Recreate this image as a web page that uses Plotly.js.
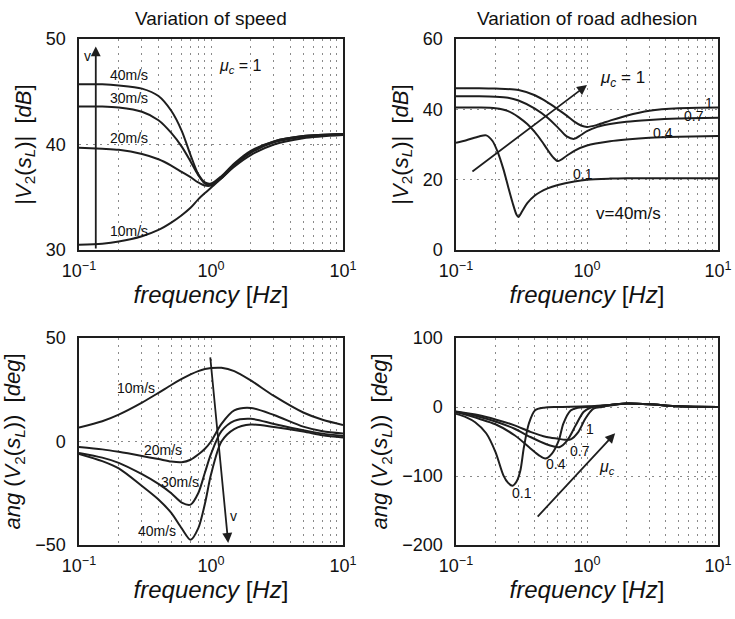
<!DOCTYPE html>
<html>
<head>
<meta charset="utf-8">
<script src="https://cdn.plot.ly/plotly-3.0.1.min.js"></script>
<style>html,body{margin:0;padding:0;background:#fff;}#chart{width:735px;height:619px;}</style>
</head>
<body>
<div id="chart"></div>
<script>
// ---------- Data: magnitude vs speed (top-left) ----------
const fSpeedMag = [0.1, 0.15, 0.2, 0.3, 0.4, 0.5, 0.6, 0.7, 0.8, 0.9, 1.0, 1.2, 1.5, 2, 3, 5, 10];
const magV40 = [45.7, 45.7, 45.6, 45.3, 44.6, 43.2, 41.3, 39.0, 37.2, 36.4, 36.3, 37.0, 38.2, 39.4, 40.3, 40.8, 41.0];
const magV30 = [43.6, 43.6, 43.5, 43.1, 42.3, 41.1, 39.8, 38.4, 37.1, 36.3, 36.2, 36.9, 38.1, 39.3, 40.3, 40.8, 41.0];
const magV20 = [39.7, 39.6, 39.5, 39.1, 38.6, 38.0, 37.4, 36.9, 36.4, 36.1, 36.1, 36.8, 38.0, 39.2, 40.2, 40.7, 41.0];
const magV10 = [30.5, 30.6, 30.8, 31.3, 31.9, 32.6, 33.3, 34.0, 34.8, 35.4, 35.9, 36.8, 37.9, 39.0, 40.0, 40.6, 40.9];

// ---------- Data: magnitude vs road adhesion (top-right) ----------
const fMu1Mag = [0.1, 0.15, 0.2, 0.3, 0.4, 0.5, 0.6, 0.7, 0.8, 0.9, 1.0, 1.2, 1.5, 2, 3, 5, 10];
const magMu1 = [46.0, 46.0, 45.9, 45.5, 44.0, 42.0, 40.0, 38.2, 36.5, 35.4, 35.0, 35.6, 36.8, 38.2, 39.6, 40.3, 40.5];
const fMu07Mag = [0.1, 0.15, 0.2, 0.25, 0.3, 0.4, 0.5, 0.6, 0.7, 0.8, 0.9, 1.0, 1.2, 1.5, 2, 3, 5, 10];
const magMu07 = [43.7, 43.7, 43.6, 43.3, 42.5, 40.2, 37.6, 34.8, 32.3, 31.6, 32.7, 33.8, 35.0, 35.8, 36.5, 37.0, 37.4, 37.6];
const fMu04Mag = [0.1, 0.15, 0.2, 0.25, 0.3, 0.35, 0.4, 0.45, 0.5, 0.55, 0.6, 0.7, 0.8, 1.0, 1.5, 2, 3, 5, 10];
const magMu04 = [40.5, 40.5, 40.3, 39.5, 37.8, 35.8, 33.5, 31.0, 28.5, 26.4, 25.3, 26.8, 28.2, 29.7, 30.9, 31.4, 31.9, 32.2, 32.4];
const fMu01Mag = [0.1, 0.12, 0.15, 0.17, 0.19, 0.21, 0.23, 0.25, 0.27, 0.29, 0.3, 0.32, 0.35, 0.4, 0.5, 0.6, 0.8, 1.0, 1.5, 2, 5, 10];
const magMu01 = [30.5, 31.2, 32.3, 32.6, 31.0, 27.5, 23.0, 18.0, 13.5, 10.0, 9.4, 11.0, 13.3, 15.5, 17.5, 18.5, 19.5, 20.0, 20.3, 20.4, 20.4, 20.4];

// ---------- Data: phase vs speed (bottom-left) ----------
const fSpeedAng = [0.1, 0.15, 0.2, 0.3, 0.4, 0.5, 0.6, 0.7, 0.8, 0.9, 1.0, 1.2, 1.5, 2, 3, 5, 7, 10];
const angV10 = [6.8, 9.8, 13.0, 18.8, 23.5, 27.3, 30.2, 32.4, 34.0, 35.0, 35.5, 35.6, 34.0, 29.5, 22.0, 14.0, 10.5, 8.0];
const angV20 = [-2.6, -3.8, -5.0, -7.0, -8.5, -9.7, -10.0, -8.8, -6.3, -3.5, 0.0, 8.5, 15.0, 16.2, 12.8, 7.2, 5.0, 3.9];
const angV30 = [-5.5, -7.8, -10.3, -15.8, -20.5, -25.0, -29.5, -30.5, -25.0, -15.0, -6.0, 5.0, 10.0, 11.0, 8.5, 5.5, 3.8, 2.7];
const angV40 = [-6.0, -9.5, -13.0, -21.5, -28.0, -34.5, -42.0, -47.5, -42.0, -30.0, -16.0, 0.0, 6.0, 8.2, 7.0, 4.8, 3.0, 1.9];

// ---------- Data: phase vs road adhesion (bottom-right) ----------
const fMu01Ang = [0.1, 0.12, 0.14, 0.17, 0.2, 0.23, 0.25, 0.27, 0.29, 0.31, 0.33, 0.36, 0.4, 0.47, 0.6, 1.0, 1.5, 2, 3, 5, 10];
const angMu01 = [-9.8, -15, -22, -38, -65, -99, -110, -114, -108, -92, -58, -24, -5, -1, 0, 1, 3, 5, 4, 1, 0];
const fMu04Ang = [0.1, 0.15, 0.2, 0.28, 0.37, 0.43, 0.48, 0.54, 0.61, 0.66, 0.75, 0.85, 1.0, 1.5, 2, 3, 5, 10];
const angMu04 = [-7.3, -17, -25, -41, -60, -70, -74.8, -67.5, -48, -24, -5, -1, 0, 3, 5, 4, 1, 0];
const fMu07Ang = [0.1, 0.15, 0.2, 0.28, 0.37, 0.49, 0.55, 0.62, 0.71, 0.82, 0.94, 1.06, 1.5, 2, 3, 5, 10];
const angMu07 = [-7, -14, -21, -31.5, -43.5, -54, -57, -58, -48, -26.6, -7.3, -1, 3, 5, 4, 1, 0];
const fMu1Ang = [0.1, 0.15, 0.2, 0.28, 0.37, 0.49, 0.6, 0.68, 0.75, 0.86, 0.97, 1.12, 1.3, 1.5, 2, 3, 5, 10];
const angMu1 = [-6.5, -12, -18, -26.6, -36, -43.5, -46, -47.5, -47, -36, -17, -2.5, 0, 2, 5, 4, 1, 0];

// ---------- Tick labels ----------
const xTickVals = [0.1, 1, 10];
const xTickText = ['10<sup>\u22121</sup>', '10<sup>0</sup>', '10<sup>1</sup>'];
const xMinorVals = [0.2,0.3,0.4,0.5,0.6,0.7,0.8,0.9,2,3,4,5,6,7,8,9];
const yTicksTL = [30, 40, 50];
const yTicksTR = [0, 20, 40, 60];
const yTicksBL = [-50, 0, 50];
const yTicksBR = [-200, -100, 0, 100];

const LC = '#1e1e1e';
const GRID = '#8a8a8a';
const DASH = '2px,5px';
function line(x, y, xa, ya) {
  return {x: x, y: y, xaxis: xa, yaxis: ya, type: 'scatter', mode: 'lines',
          line: {color: LC, width: 2, shape: 'spline', smoothing: 0.8}, hoverinfo: 'skip'};
}
const traces = [
  line(fSpeedMag, magV40, 'x', 'y'), line(fSpeedMag, magV30, 'x', 'y'),
  line(fSpeedMag, magV20, 'x', 'y'), line(fSpeedMag, magV10, 'x', 'y'),
  line(fMu1Mag, magMu1, 'x2', 'y2'), line(fMu07Mag, magMu07, 'x2', 'y2'),
  line(fMu04Mag, magMu04, 'x2', 'y2'), line(fMu01Mag, magMu01, 'x2', 'y2'),
  line(fSpeedAng, angV10, 'x3', 'y3'), line(fSpeedAng, angV20, 'x3', 'y3'),
  line(fSpeedAng, angV30, 'x3', 'y3'), line(fSpeedAng, angV40, 'x3', 'y3'),
  line(fMu01Ang, angMu01, 'x4', 'y4'), line(fMu04Ang, angMu04, 'x4', 'y4'),
  line(fMu07Ang, angMu07, 'x4', 'y4'), line(fMu1Ang, angMu1, 'x4', 'y4')
];

const W = 735, H = 619;
const colL = [79 / W, 343 / W], colR = [456 / W, 718 / W];
const rowT = [1 - 250 / H, 1 - 39 / H], rowB = [1 - 545 / H, 1 - 338 / H];

function xax(dom, anchor) {
  return {type: 'log', range: [-1, 1], domain: dom, anchor: anchor,
          tickvals: xTickVals, ticktext: xTickText, ticks: '', ticklabelstandoff: 4,
          tickfont: {size: 18, color: '#111'},
          showgrid: true, gridcolor: GRID, griddash: DASH, gridwidth: 1,
          minor: {tickvals: xMinorVals, showgrid: true, gridcolor: GRID, griddash: DASH, gridwidth: 1, ticks: ''},
          showline: true, mirror: true, linecolor: LC, linewidth: 1.6, zeroline: false,
          title: {text: '<i>frequency</i> [<i>Hz</i>]', font: {size: 24, color: '#111'}, standoff: 5}};
}
function yax(dom, anchor, range, tv, title) {
  return {range: range, domain: dom, anchor: anchor, tickvals: tv, ticks: '', ticklabelstandoff: 8,
          tickfont: {size: 18, color: '#111'},
          showgrid: true, gridcolor: GRID, griddash: DASH, gridwidth: 1,
          showline: true, mirror: true, linecolor: LC, linewidth: 1.6, zeroline: false,
          title: {text: title, font: {size: 22, color: '#111'}, standoff: 8}};
}
const magTitle = '|<i>V</i><sub>2</sub>(<i>s</i><sub><i>L</i></sub>)|\u00a0 [<i>dB</i>]';
const angTitle = '<i>ang</i> (<i>V</i><sub>2</sub>(<i>s</i><sub><i>L</i></sub>))\u00a0 [<i>deg</i>]';

const L = Math.log10;
function txt(xr, yr, f, y, t, size) {
  return {xref: xr, yref: yr, x: L(f), y: y, text: t, showarrow: false,
          font: {size: size || 14, color: '#111'}, xanchor: 'center', yanchor: 'middle'};
}
function arrow(xr, yr, f0, y0, f1, y1) {
  return {xref: xr, yref: yr, axref: xr, ayref: yr, x: L(f1), y: y1, ax: L(f0), ay: y0,
          text: '', showarrow: true, arrowhead: 2, arrowsize: 1.1, arrowwidth: 1.8, arrowcolor: LC};
}
const mu = '<i>\u03bc<sub>c</sub></i>';
const annotations = [
  {xref: 'paper', yref: 'paper', x: (colL[0] + colL[1]) / 2, y: 1 - 19 / H, text: 'Variation of speed',
   showarrow: false, font: {size: 19, color: '#111'}, xanchor: 'center', yanchor: 'middle'},
  {xref: 'paper', yref: 'paper', x: (colR[0] + colR[1]) / 2, y: 1 - 19 / H, text: 'Variation of road adhesion',
   showarrow: false, font: {size: 19, color: '#111'}, xanchor: 'center', yanchor: 'middle'},
  // top-left
  arrow('x', 'y', 0.134, 30, 0.134, 49.3),
  txt('x', 'y', 0.116, 48.4, 'v', 14),
  txt('x', 'y', 0.241, 46.6, '40m/s'), txt('x', 'y', 0.241, 44.45, '30m/s'),
  txt('x', 'y', 0.241, 40.6, '20m/s'), txt('x', 'y', 0.241, 31.8, '10m/s'),
  txt('x', 'y', 1.67, 47.4, mu + ' = 1', 16),
  // top-right
  arrow('x2', 'y2', 0.13, 22, 1.0, 46.9),
  txt('x2', 'y2', 1.86, 48.7, mu + ' = 1', 17),
  txt('x2', 'y2', 8.6, 41.8, '1'), txt('x2', 'y2', 6.6, 38.2, '0.7'),
  txt('x2', 'y2', 3.8, 33.4, '0.4'), txt('x2', 'y2', 0.93, 21.5, '0.1'),
  txt('x2', 'y2', 2.09, 10.4, 'v=40m/s', 17),
  // bottom-left
  arrow('x3', 'y3', 0.985, 41.4, 1.35, -49),
  txt('x3', 'y3', 0.27, 25.8, '10m/s'), txt('x3', 'y3', 0.434, -3.9, '20m/s'),
  txt('x3', 'y3', 0.58, -19.5, '30m/s'), txt('x3', 'y3', 0.388, -43.4, '40m/s'),
  txt('x3', 'y3', 1.48, -36, 'v'),
  // bottom-right
  arrow('x4', 'y4', 0.41, -161, 1.64, -38),
  txt('x4', 'y4', 1.06, -31.4, '1'), txt('x4', 'y4', 0.89, -64, '0.7'),
  txt('x4', 'y4', 0.575, -82, '0.4'), txt('x4', 'y4', 0.32, -125, '0.1'),
  txt('x4', 'y4', 1.42, -87, mu, 16)
];

const layout = {
  width: W, height: H, margin: {l: 0, r: 0, t: 0, b: 0},
  paper_bgcolor: '#fff', plot_bgcolor: '#fff', showlegend: false,
  font: {family: 'Liberation Sans, Arial, sans-serif', color: '#111'},
  xaxis: xax(colL, 'y'), yaxis: yax(rowT, 'x', [30, 50], yTicksTL, magTitle),
  xaxis2: xax(colR, 'y2'), yaxis2: yax(rowT, 'x2', [0, 60], yTicksTR, magTitle),
  xaxis3: xax(colL, 'y3'), yaxis3: yax(rowB, 'x3', [-50, 50], yTicksBL, angTitle),
  xaxis4: xax(colR, 'y4'), yaxis4: yax(rowB, 'x4', [-200, 100], yTicksBR, angTitle),
  annotations: annotations
};
Plotly.newPlot('chart', traces, layout, {staticPlot: true, displayModeBar: false});
</script>
</body>
</html>
